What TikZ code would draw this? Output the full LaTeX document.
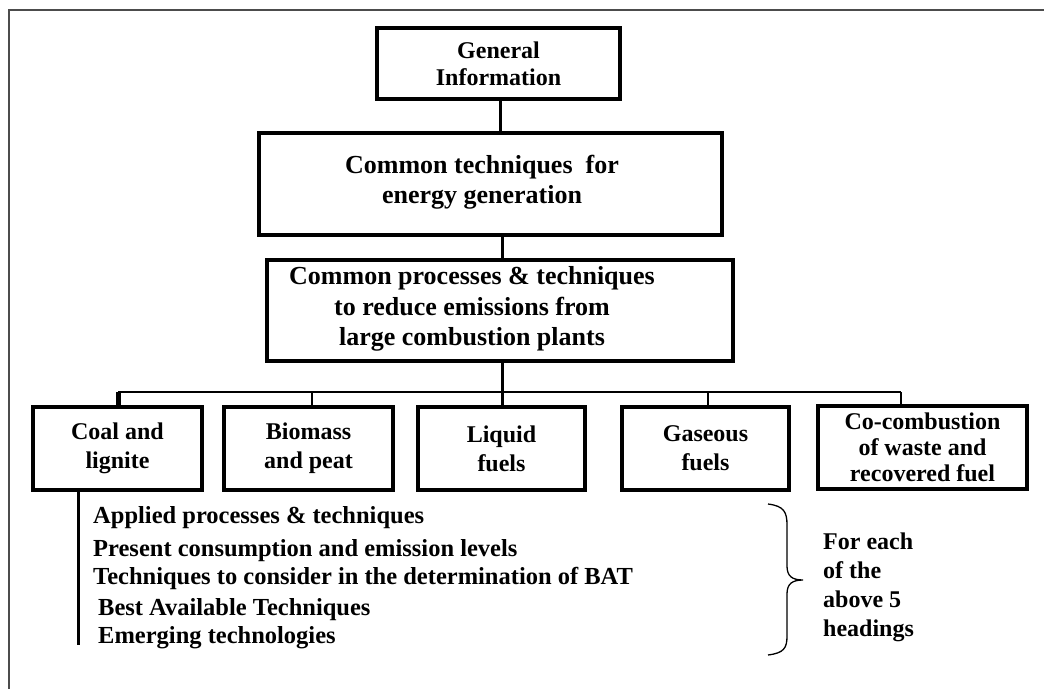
\documentclass[tikz,border=0pt]{standalone}
\usepackage{fontspec}
\setmainfont{Liberation Serif}
\usetikzlibrary{positioning}

\begin{document}
\begin{tikzpicture}[
    x=1pt, y=-1pt,
    block/.style={rectangle, draw, line width=3.5pt, align=center, inner sep=0pt,
        font=\fontsize{24}{29}\selectfont\bfseries},
    label/.style={align=center, inner sep=0pt, font=\fontsize{26}{30.5}\selectfont\bfseries},
    link/.style={line width=3pt},
    bus/.style={line width=1.8pt},
    item/.style={anchor=west, inner sep=0pt, font=\fontsize{24.5}{28}\selectfont\bfseries},
    note/.style={anchor=west, align=left, inner sep=0pt, font=\fontsize{24}{29}\selectfont\bfseries}
]
    \useasboundingbox (0,0) rectangle (1044,689);

    % Frame
    \draw[line width=1.5pt, black!70] (1044,10) -- (9,10) -- (9,689);

    % Top of the tree
    \node[block, minimum width=243, minimum height=71, font=\fontsize{24}{27}\selectfont\bfseries] (general) at (498.5,63.5) {General\\Information};
    \node[block, minimum width=463, minimum height=102] (energy) at (490.5,184) {};
    \node[label] (energytext) at (482,182) {Common techniques~~for\\energy generation};
    \node[block, minimum width=466, minimum height=101] (reduce) at (500,310.5) {};
    \node[label] (reducetext) at (472,309) {Common processes \& techniques\\to reduce emissions from\\large combustion plants};
    \draw[link] (general.south -| 500,0) -- (energy.north -| 500,0);
    \draw[link] (energy.south -| 502,0) -- (reduce.north -| 502,0);

    % Fuel headings
    \node[block, minimum width=169, minimum height=83] (coal) at (117.5,448.5) {Coal and\\lignite};
    \node[block, minimum width=169, minimum height=83] (biomass) at (308.5,448.5) {Biomass\\and peat};
    \node[block, minimum width=167, minimum height=83] (liquid) at (501.5,448.5) {Liquid\\fuels};
    \node[block, minimum width=167, minimum height=83] (gaseous) at (705.5,448.5) {Gaseous\\fuels};
    \node[block, minimum width=209, minimum height=83, font=\fontsize{24}{26}\selectfont\bfseries] (cocomb) at (922.5,447.5) {Co-combustion\\of waste and\\recovered fuel};

    % Bus line
    \coordinate (busL) at (118,392);
    \coordinate (busR) at (901,392);
    \coordinate (busB) at (312,392);
    \coordinate (busG) at (708,392);
    \draw[bus] (busL) -- (busR);
    \draw[line width=5pt] (busL) -- (busL |- coal.north);
    \draw[bus] (busB) -- (busB |- biomass.north);
    \draw[bus] (busG) -- (busG |- gaseous.north);
    \draw[bus] (busR) -- (busR |- cocomb.north);
    \draw[link] (reduce.south -| 502,0) -- (liquid.north -| 502,0);

    % Chapters for each heading
    \coordinate (listend) at (78,645);
    \draw[link] (coal.south -| listend) -- (listend);
    \node[item] (applied) at (93,518) {Applied processes \& techniques};
    \node[item] (present) at (93,551) {Present consumption and emission levels};
    \node[item] (consider) at (93,578) {Techniques to consider in the determination of BAT};
    \node[item] (bat) at (98,610) {Best Available Techniques};
    \node[item] (emerging) at (98,638) {Emerging technologies};

    % Brace and note
    \draw[line width=1.3pt] (768,504) .. controls (784,506) and (787,512) .. (787,525)
        -- (787,566) .. controls (787,576) and (792,580) .. (803,580)
        .. controls (792,580) and (787,584) .. (787,594)
        -- (787,636) .. controls (787,648) and (784,653) .. (768,655);
    \node[note] (each) at (823,587) {For each\\of the\\above 5\\headings};
\end{tikzpicture}
\end{document}
